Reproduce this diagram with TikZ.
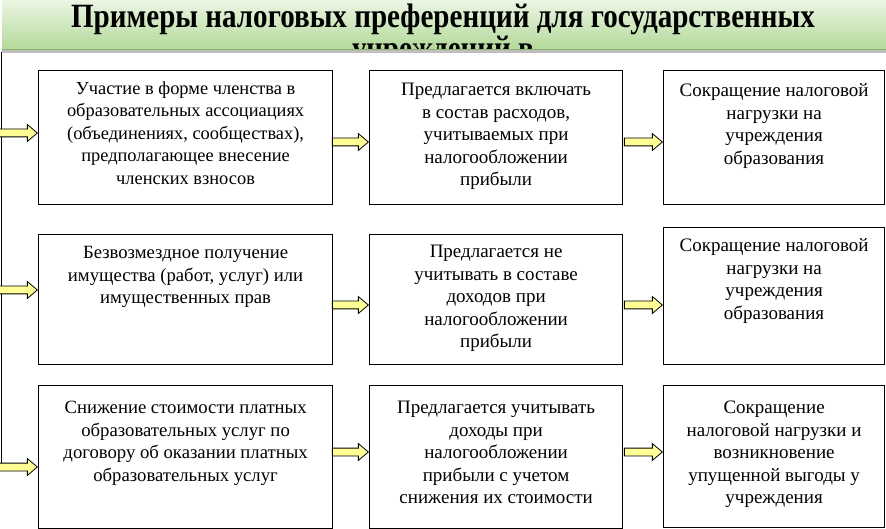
\documentclass[tikz,border=0pt]{standalone}
\usepackage{fontspec}
\setmainfont{Liberation Serif}
\newfontfamily\titlefont{Liberation Serif}[FakeStretch=0.855]
\usetikzlibrary{shapes.arrows}
\definecolor{arrowyellow}{RGB}{255,255,150}
\definecolor{bantop}{RGB}{236,246,228}
\definecolor{banbot}{RGB}{178,216,152}
\definecolor{banedge}{RGB}{140,180,110}
\newcommand{\mkbox}[8]{%
  \node[infobox, font=\fontsize{#8}{22.5}\selectfont, minimum width=#4pt, minimum height=#5pt, anchor=north west] (#1) at (#2,#3)
  {\parbox[c][#5pt][t]{#4pt}{\centering\rule{0pt}{#6pt}#7}};}
\begin{document}
\begin{tikzpicture}[x=1pt,y=-1pt,
  infobox/.style={draw=black, line width=1.2pt, fill=white, inner sep=0pt},
  blockarrow/.style={single arrow, draw=black, line width=0.8pt, fill=arrowyellow,
    inner xsep=0pt, inner ysep=3.5pt, single arrow head extend=4.5pt,
    single arrow tip angle=80, anchor=tip},
  vline/.style={draw=black, line width=1.5pt}]
\useasboundingbox (0,0) rectangle (886,529);
% banner
\fill[black!25] (2,50) rectangle (886,53);
\shade[top color=bantop, bottom color=banbot] (2,0) rectangle (886,50);
\draw[banedge, line width=1.2pt] (2,49.5) -- (886,49.5);
\begin{scope}
\clip (2,0) rectangle (886,49);
\node[inner sep=0pt, anchor=north, align=center,
  font=\titlefont\bfseries\fontsize{34}{25.5}\selectfont] (title) at (443,4)
  {Примеры налоговых преференций для государственных\\учреждений в};
\end{scope}
% vertical line
\coordinate (vtop) at (1.5,52);
\coordinate (vbot) at (1.5,467);
\draw[vline] (vtop) -- (vbot);
% boxes
\mkbox{L1}{38}{70}{294}{134}{23.5}{Участие в форме членства в\\образовательных ассоциациях\\(объединениях, сообществах),\\предполагающее внесение\\членских взносов}{18.4}
\mkbox{M1}{369}{70}{253}{134}{25}{Предлагается включать\\в состав расходов,\\учитываемых при\\налогообложении\\прибыли}{19}
\mkbox{R1}{663}{70}{221}{134}{26}{Сокращение налоговой\\нагрузки на\\учреждения\\образования}{19}
\mkbox{L2}{38}{234}{294}{130}{24}{Безвозмездное получение\\имущества (работ, услуг) или\\имущественных прав}{18.7}
\mkbox{M2}{369}{234}{253}{130}{23}{Предлагается не\\учитывать в составе\\доходов при\\налогообложении\\прибыли}{19}
\mkbox{R2}{663}{227}{221}{137}{24}{Сокращение налоговой\\нагрузки на\\учреждения\\образования}{19}
\mkbox{L3}{38}{385}{294}{143}{28}{Снижение стоимости платных\\образовательных услуг по\\договору об оказании платных\\образовательных услуг}{18.7}
\mkbox{M3}{369}{385}{253}{143}{28}{Предлагается учитывать\\доходы при\\налогообложении\\прибыли с учетом\\снижения их стоимости}{19}
\mkbox{R3}{663}{385}{221}{142}{28}{Сокращение\\налоговой нагрузки и\\возникновение\\упущенной выгоды у\\учреждения}{19}
% arrow rows
\coordinate (a1) at (0,133);
\coordinate (b1) at (0,142);
\coordinate (a2) at (0,290);
\coordinate (b2) at (0,305);
\coordinate (a3) at (0,467);
\coordinate (b3) at (0,452);
\foreach \r in {1,2,3}{
  \path (vtop |- a\r) -- (L\r.west |- a\r) node[pos=1, blockarrow, minimum height=38pt] {};
  \path (L\r.east |- b\r) -- (M\r.west |- b\r) node[pos=1, blockarrow, minimum height=36pt] {};
  \path (M\r.east |- b\r) -- (R\r.west |- b\r) node[pos=1, blockarrow, minimum height=38pt] {};
}
\end{tikzpicture}
\end{document}
